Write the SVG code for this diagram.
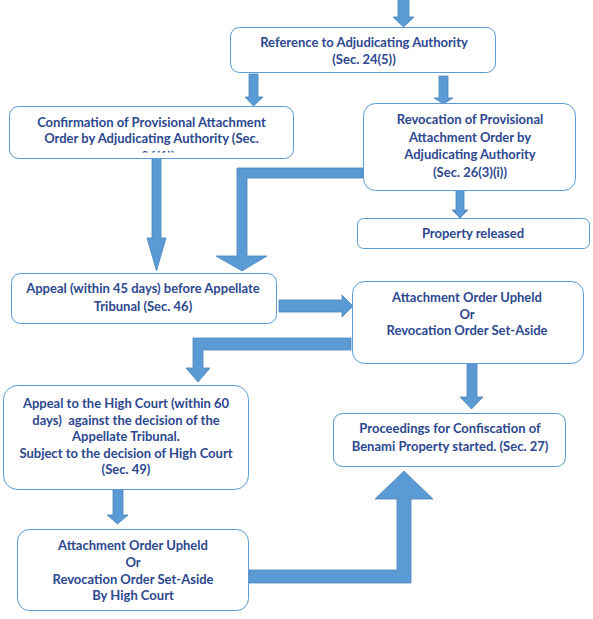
<svg xmlns="http://www.w3.org/2000/svg" width="593" height="619" viewBox="0 0 593 619">
<defs>
<style>
.box{fill:#ffffff;stroke:#5B9BD5;stroke-width:1}
.arr{fill:#5B9BD5;stroke:#4A84BD;stroke-width:0.8}
text{font-family:"Lato","Liberation Sans",sans-serif;font-weight:bold;font-size:13px;fill:#2C4890;text-anchor:middle}
</style>
<clipPath id="clipConf"><rect x="9" y="106" width="284" height="46.5"/></clipPath>
</defs>
<rect width="593" height="619" fill="#ffffff"/>
<g id="connectors">
<polygon class="arr" points="398,-1 409,-1 409,17 414,17 403.5,27 393,17 398,17"/>
<polygon class="arr" points="249,74 258,74 258,97 263,97 253.5,106 245,97 249,97"/>
<polygon class="arr" points="439,76 448,76 448,98 453,98 443.5,104 434,98 439,98"/>
<polygon class="arr" points="152,158 161,158 161,238 166,238 156.5,271 147,238 152,238"/>
<polygon class="arr" points="363,168 237,168 237,256 216,256 242,271 267,256 247,256 247,178 363,178"/>
<polygon class="arr" points="456,190 464,190 464,210 468,210 460,218 452,210 456,210"/>
<polygon class="arr" points="279,300 342,300 342,295 353,306 342,317 342,312 279,312"/>
<polygon class="arr" points="351,338 193,338 193,368 186,368 198,382 210,368 203,368 203,350 351,350"/>
<polygon class="arr" points="467,363 477,363 477,397 483,397 471.5,409 460,397 467,397"/>
<polygon class="arr" points="113,489 123,489 123,515 128,515 117.5,524 107,515 113,515"/>
<polygon class="arr" points="249,570 397,570 397,499 375,499 404,471 433,499 411,499 411,583 249,583"/>
</g>
<g id="ref">
<rect class="box" x="230.5" y="27.5" width="265" height="45" rx="9"/>
<text x="364" y="47">Reference to Adjudicating Authority</text>
<text x="364" y="64">(Sec. 24(5))</text>
</g>
<g id="confirm">
<rect class="box" x="9.5" y="106.5" width="284" height="52" rx="9"/>
<text x="151.5" y="127">Confirmation of Provisional Attachment</text>
<text x="151.5" y="143">Order by Adjudicating Authority (Sec.</text>
<text x="158" y="161" clip-path="url(#clipConf)">26(1))</text>
</g>
<g id="revoke">
<rect class="box" x="363.5" y="103.5" width="212" height="87" rx="12"/>
<text x="470" y="124">Revocation of Provisional</text>
<text x="470" y="141.5">Attachment Order by</text>
<text x="470" y="159">Adjudicating Authority</text>
<text x="470" y="176.5">(Sec. 26(3)(i))</text>
</g>
<g id="released">
<rect class="box" x="357.5" y="218.5" width="232" height="30" rx="6"/>
<text x="473" y="237.5">Property released</text>
</g>
<g id="appeal">
<rect class="box" x="11.5" y="273.5" width="265" height="50" rx="9"/>
<text x="143" y="293">Appeal (within 45 days) before Appellate</text>
<text x="143" y="311">Tribunal (Sec. 46)</text>
</g>
<g id="upheld">
<rect class="box" x="352.5" y="281.5" width="231" height="82" rx="12"/>
<text x="467" y="302">Attachment Order Upheld</text>
<text x="467" y="318.5">Or</text>
<text x="467" y="335">Revocation Order Set-Aside</text>
</g>
<g id="highcourt">
<rect class="box" x="3.5" y="385.5" width="245" height="104" rx="14"/>
<text x="126" y="408">Appeal to the High Court (within 60</text>
<text x="126" y="425" xml:space="preserve">days)  against the decision of the</text>
<text x="126" y="441">Appellate Tribunal.</text>
<text x="126" y="457.5">Subject to the decision of High Court</text>
<text x="126" y="474">(Sec. 49)</text>
</g>
<g id="proceedings">
<rect class="box" x="333.5" y="413.5" width="232" height="53" rx="9"/>
<text x="450" y="433">Proceedings for Confiscation of</text>
<text x="450" y="451">Benami Property started. (Sec. 27)</text>
</g>
<g id="hcupheld">
<rect class="box" x="17.5" y="529.5" width="231" height="81" rx="12"/>
<text x="133" y="550">Attachment Order Upheld</text>
<text x="133" y="567">Or</text>
<text x="133" y="583.5">Revocation Order Set-Aside</text>
<text x="133" y="600">By High Court</text>
</g>
</svg>
